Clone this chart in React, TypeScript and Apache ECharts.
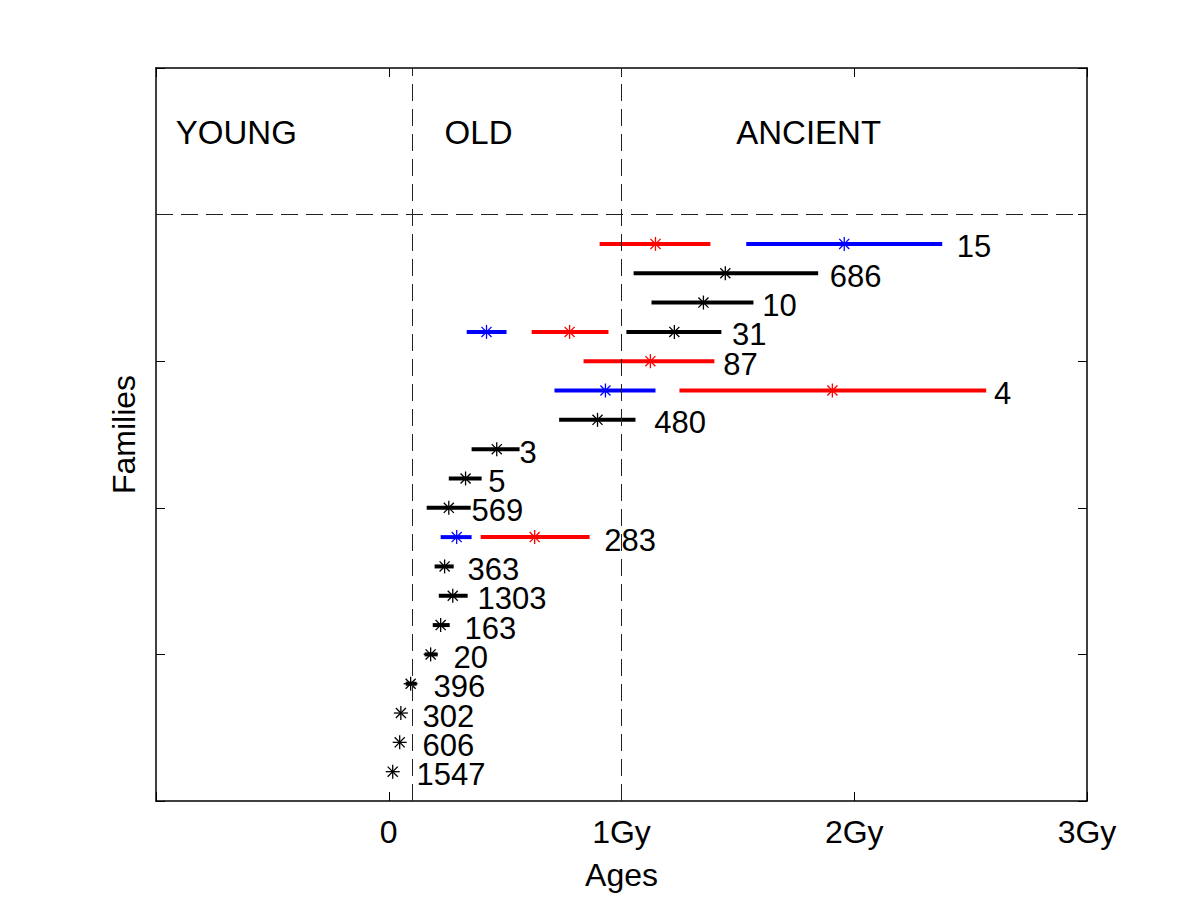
import React, { useEffect, useRef } from "react";
import * as echarts from "echarts";

// Family names (top to bottom) and their row positions on the y scale
const families = ["15", "686", "10", "31", "87", "4", "480", "3", "5", "569", "283", "363", "1303", "163", "20", "396", "302", "606", "1547"];
const familyY = [3.8, 3.6, 3.4, 3.2, 3.0, 2.8, 2.6, 2.4, 2.2, 2.0, 1.8, 1.6, 1.4, 1.2, 1.0, 0.8, 0.6, 0.4, 0.2];
// x (Gy) where each family's label starts
const labelX = [2.44, 1.895, 1.605, 1.475, 1.437, 2.6, 1.141, 0.562, 0.428, 0.356, 0.926, 0.338, 0.381, 0.325, 0.278, 0.192, 0.145, 0.145, 0.119];

// Age intervals [family, low, estimate, high] in Gy
const blackSegments: [string, number, number, number][] = [
  ["686", 1.052, 1.446, 1.845],
  ["10", 1.129, 1.352, 1.567],
  ["31", 1.021, 1.227, 1.429],
  ["480", 0.732, 0.897, 1.06],
  ["3", 0.356, 0.464, 0.562],
  ["5", 0.258, 0.33, 0.399],
  ["569", 0.163, 0.258, 0.352],
  ["363", 0.197, 0.24, 0.279],
  ["1303", 0.215, 0.275, 0.339],
  ["163", 0.189, 0.223, 0.262],
  ["20", 0.154, 0.18, 0.21],
  ["396", 0.073, 0.094, 0.12],
  ["302", 0.052, 0.052, 0.052],
  ["606", 0.047, 0.047, 0.047],
  ["1547", 0.017, 0.017, 0.017],
];
const redSegments: [string, number, number, number][] = [
  ["15", 0.906, 1.146, 1.382],
  ["31", 0.614, 0.777, 0.944],
  ["87", 0.837, 1.124, 1.399],
  ["4", 1.249, 1.906, 2.567],
  ["283", 0.395, 0.627, 0.863],
];
const blueSegments: [string, number, number, number][] = [
  ["15", 1.536, 1.957, 2.378],
  ["31", 0.335, 0.42, 0.506],
  ["4", 0.712, 0.931, 1.146],
  ["283", 0.223, 0.292, 0.356],
];

// Region labels
const regionNames = ["YOUNG", "OLD", "ANCIENT"];
const regionX = [-0.915, 0.24, 1.493];
const regionY = [4.56, 4.56, 4.56];

// Boundaries
const ageBoundaries = [0.1, 1];
const headerBoundary = 4;

const xTicks = { min: -1, max: 3, interval: 1 };
const yTicks = { min: 0, max: 5, interval: 1 };

const FONT = "'Liberation Sans', Arial, Helvetica, sans-serif";
const FS = 32;

function rowOf(name: string) {
  return familyY[families.indexOf(name)];
}

function segmentSeries(segs: [string, number, number, number][], color: string) {
  return {
    type: "custom",
    xAxisIndex: 0,
    yAxisIndex: 0,
    clip: false,
    data: segs.map((s) => [s[1], s[2], s[3], rowOf(s[0])]),
    encode: { x: [0, 1, 2], y: 3 },
    renderItem: (params: any, api: any) => {
      const y = api.value(3);
      const pLo = api.coord([api.value(0), y]);
      const pMid = api.coord([api.value(1), y]);
      const pHi = api.coord([api.value(2), y]);
      const children: any[] = [];
      if (pHi[0] - pLo[0] > 0.5) {
        children.push({
          type: "line",
          shape: { x1: pLo[0], y1: pLo[1], x2: pHi[0], y2: pHi[1] },
          style: { stroke: color, lineWidth: 4, lineCap: "butt" },
        });
      }
      const r = 7;
      const d = r * 0.72;
      const star = [
        [0, -r, 0, r],
        [-r, 0, r, 0],
        [-d, -d, d, d],
        [-d, d, d, -d],
      ];
      star.forEach((l) => {
        children.push({
          type: "line",
          shape: { x1: pMid[0] + l[0], y1: pMid[1] + l[1], x2: pMid[0] + l[2], y2: pMid[1] + l[3] },
          style: { stroke: color, lineWidth: 1.3 },
        });
      });
      return { type: "group", children };
    },
  };
}

export default function App() {
  const ref = useRef<HTMLDivElement>(null);
  useEffect(() => {
    document.body.style.margin = "0";
    const chart = echarts.init(ref.current!, null, { renderer: "svg" });
    const axisLine = { show: true, onZero: false, lineStyle: { color: "#000", width: 1.5 } };
    const axisTick = { show: true, inside: true, length: 9, lineStyle: { color: "#000", width: 1 } };
    const dash = { color: "#222", width: 1, type: [17, 8] as any };
    chart.setOption({
      animation: false,
      backgroundColor: "#fff",
      grid: { left: 156, right: 116, top: 68, bottom: 102, containLabel: false },
      xAxis: [
        {
          type: "value",
          ...xTicks,
          position: "bottom",
          axisLine,
          axisTick,
          splitLine: { show: false },
          axisLabel: {
            color: "#000",
            fontSize: FS,
            fontFamily: FONT,
            margin: 15,
            formatter: (v: number) => (v < 0 ? "" : v === 0 ? "0" : v + "Gy"),
          },
          name: "Ages",
          nameLocation: "middle",
          nameGap: 58,
          nameTextStyle: { color: "#000", fontSize: FS, fontFamily: FONT },
        },
        {
          type: "value",
          ...xTicks,
          position: "top",
          axisLine,
          axisTick,
          splitLine: { show: false },
          axisLabel: { show: false },
        },
      ],
      yAxis: [
        {
          type: "value",
          ...yTicks,
          position: "left",
          axisLine,
          axisTick,
          splitLine: { show: false },
          axisLabel: { show: false },
          name: "Families",
          nameLocation: "middle",
          nameRotate: 90,
          nameGap: 16,
          nameTextStyle: { color: "#000", fontSize: FS, fontFamily: FONT },
        },
        {
          type: "value",
          ...yTicks,
          position: "right",
          axisLine,
          axisTick,
          splitLine: { show: false },
          axisLabel: { show: false },
        },
      ],
      series: [
        {
          type: "line",
          data: [],
          markLine: {
            silent: true,
            symbol: "none",
            label: { show: false },
            lineStyle: dash,
            data: [
              ...ageBoundaries.map((x) => ({ xAxis: x })),
              { yAxis: headerBoundary },
            ],
          },
        },
        segmentSeries(redSegments, "#ff0000"),
        segmentSeries(blueSegments, "#0000ff"),
        segmentSeries(blackSegments, "#000000"),
        {
          type: "custom",
          clip: false,
          data: families.map((f, i) => [labelX[i], familyY[i], f]),
          encode: { x: 0, y: 1 },
          renderItem: (params: any, api: any) => {
            const p = api.coord([api.value(0), api.value(1)]);
            return {
              type: "text",
              x: p[0],
              y: p[1] + 3,
              style: {
                text: families[params.dataIndex],
                fill: "#000",
                fontSize: 31,
                lineHeight: 26,
                fontFamily: FONT,
                align: "left",
                verticalAlign: "middle",
              },
            };
          },
        },
        {
          type: "custom",
          clip: false,
          data: regionNames.map((n, i) => [regionX[i], regionY[i]]),
          encode: { x: 0, y: 1 },
          renderItem: (params: any, api: any) => {
            const p = api.coord([api.value(0), api.value(1)]);
            return {
              type: "text",
              x: p[0],
              y: p[1],
              style: {
                text: regionNames[params.dataIndex],
                fill: "#000",
                fontSize: 33,
                fontFamily: FONT,
                align: "left",
                verticalAlign: "middle",
              },
            };
          },
        },
      ],
    });
    return () => chart.dispose();
  }, []);
  return <div ref={ref} style={{ width: 1203, height: 903 }} />;
}
